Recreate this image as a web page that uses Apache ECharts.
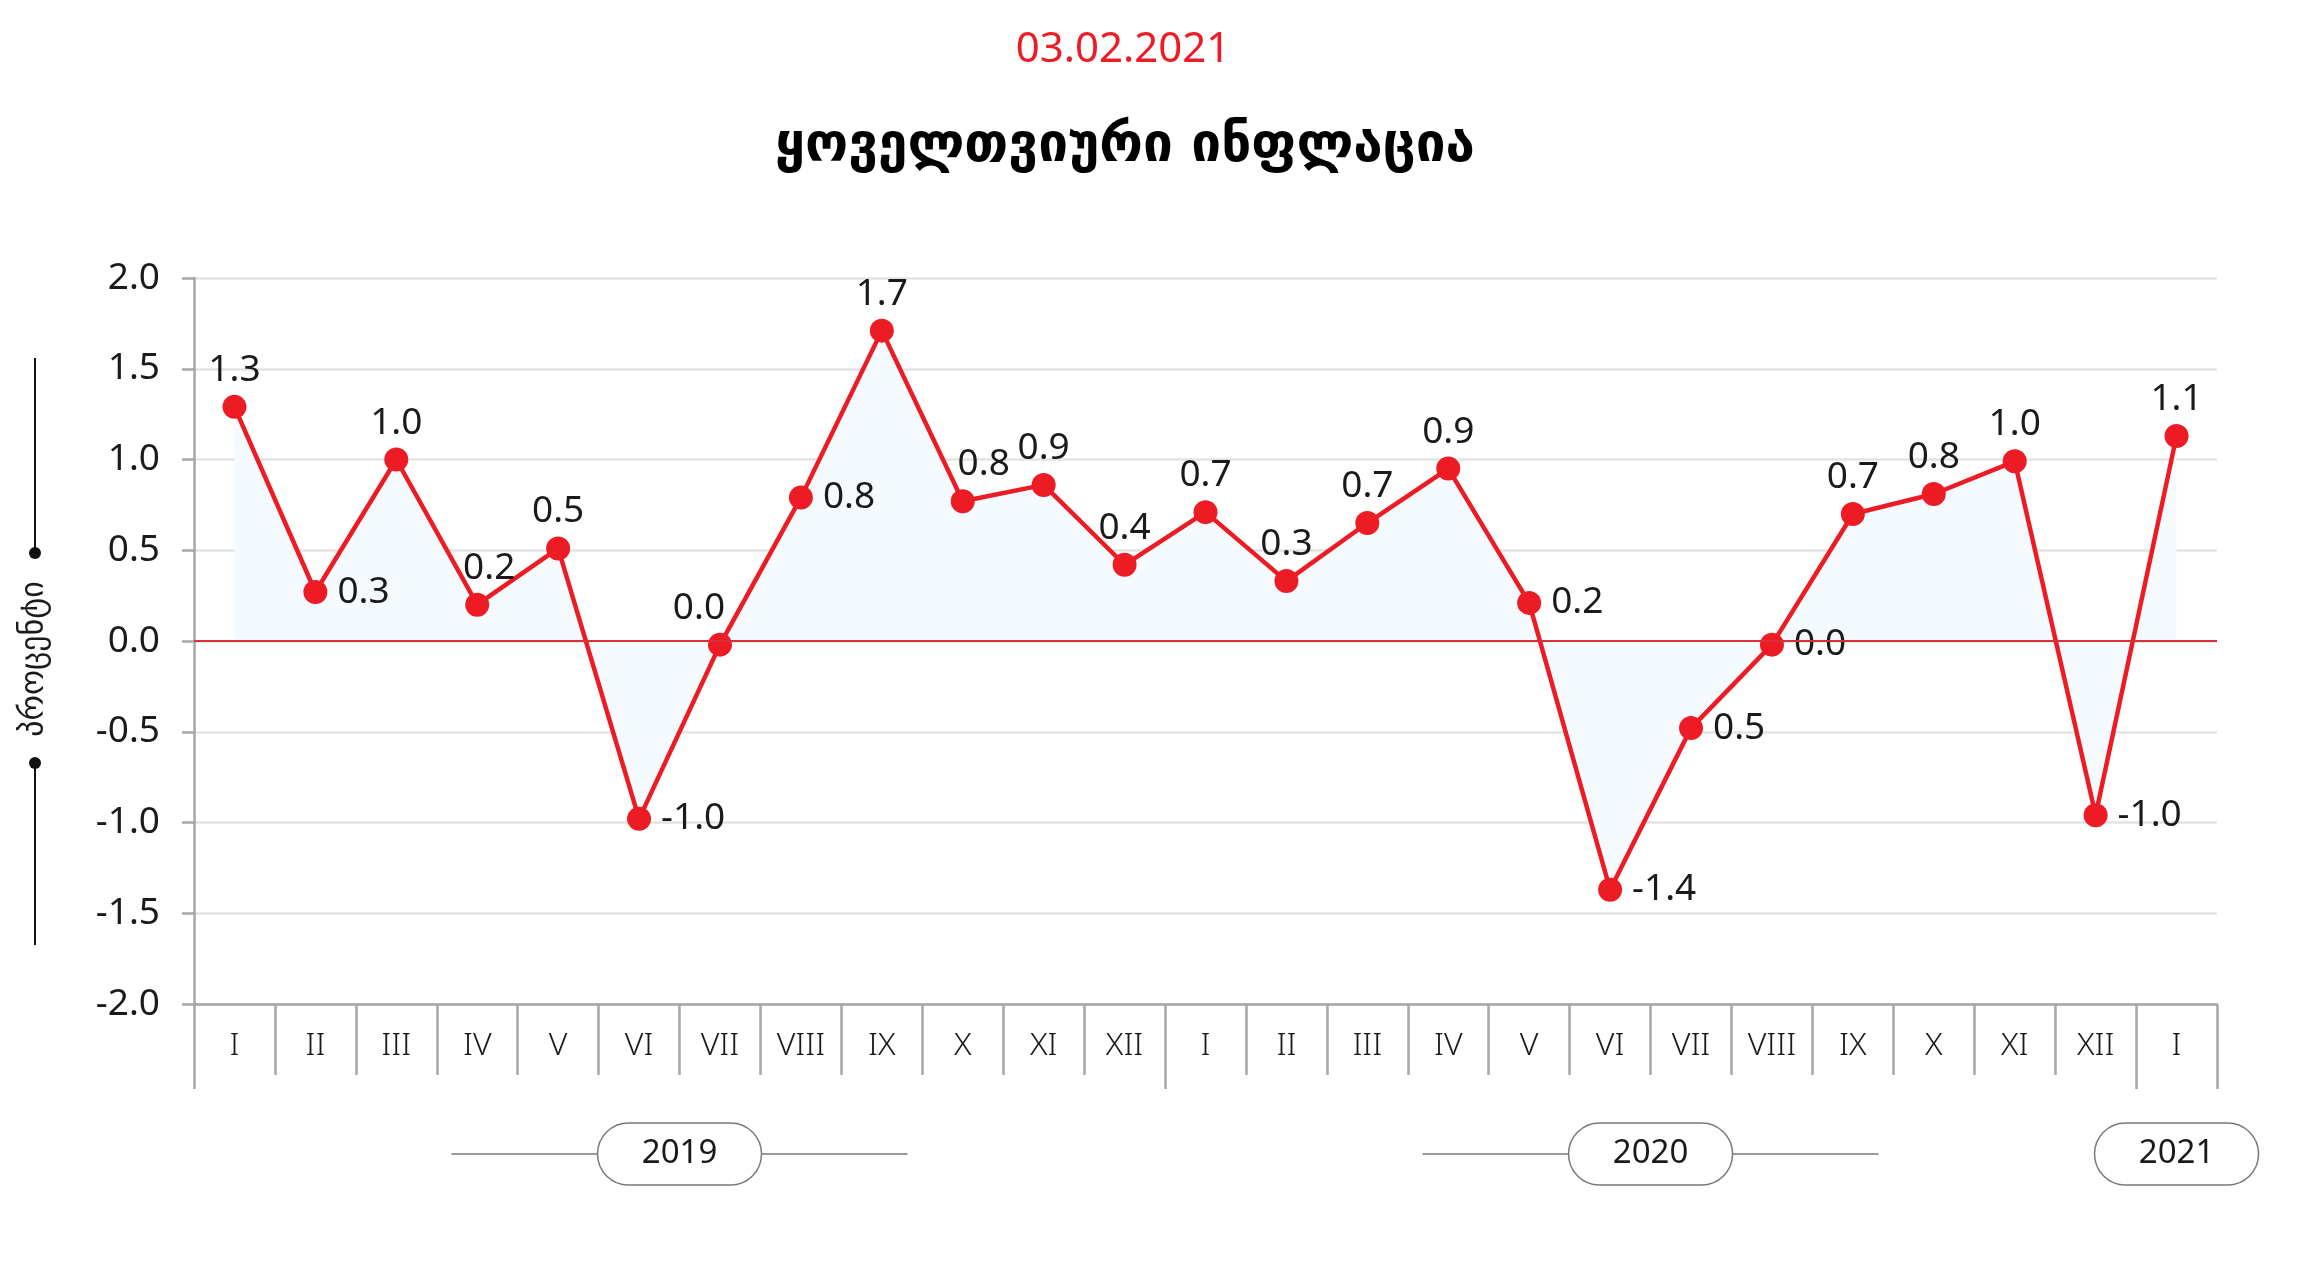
<!DOCTYPE html>
<html>
<head>
<meta charset="utf-8">
<script src="https://cdn.jsdelivr.net/npm/echarts@6/dist/echarts.min.js"></script>
<style>
html, body { margin: 0; padding: 0; background: #fff; }
#main { width: 2315px; height: 1265px; }
</style>
</head>
<body>
<div id="main"></div>
<script>
var months = ['I','II','III','IV','V','VI','VII','VIII','IX','X','XI','XII',
              'I','II','III','IV','V','VI','VII','VIII','IX','X','XI','XII','I'];
var inflation = [1.29, 0.27, 1.0, 0.2, 0.51, -0.98, -0.02, 0.79, 1.71, 0.77, 0.86, 0.42,
                 0.71, 0.33, 0.65, 0.95, 0.21, -1.37, -0.48, -0.02, 0.70, 0.81, 0.99, -0.96, 1.13];
var pointLabels = ['1.3','0.3','1.0','0.2','0.5','-1.0','0.0','0.8','1.7','0.8','0.9','0.4',
                   '0.7','0.3','0.7','0.9','0.2','-1.4','0.5','0.0','0.7','0.8','1.0','-1.0','1.1'];
var years = [
  {name: '2019', first: 0, last: 11},
  {name: '2020', first: 12, last: 23},
  {name: '2021', first: 24, last: 24}
];
var yTicks = [-2, 2, 0.5];

// label placement tweaks (style only)
var rightLabels = [1, 5, 7, 16, 17, 18, 19, 23];
var labelNudge = {3: [12, 0], 6: [-21, 0], 9: [21, 0]};

var RED = '#ED1C24', GREY = '#a6a6a8', INK = '#1a1a1a';
var chart = echarts.init(document.getElementById('main'));

var seriesData = inflation.map(function (v, i) {
  var right = rightLabels.indexOf(i) >= 0;
  return {
    value: v,
    label: {position: right ? 'right' : 'top', distance: right ? 10 : 6,
            offset: labelNudge[i] || [0, 0]}
  };
});

var option = {
  animation: false,
  backgroundColor: '#fff',
  title: [
    {text: '03.02.2021', left: 1118, textAlign: 'center', top: 24,
     textStyle: {color: RED, fontSize: 42, fontWeight: 'normal', fontFamily: 'Noto Sans'}},
    {text: 'ყოველთვიური ინფლაცია', left: 1120, textAlign: 'center', top: 116,
     textStyle: {color: '#000', fontSize: 53, fontWeight: 'bold', fontFamily: 'DejaVu Sans'}}
  ],
  grid: {left: 194, right: 98, top: 278, bottom: 261},
  xAxis: [{
    type: 'category', data: months, boundaryGap: true, position: 'bottom',
    axisLine: {onZero: false, lineStyle: {color: GREY, width: 2.5}},
    axisTick: {show: true, length: 71, interval: 0, lineStyle: {color: GREY, width: 2.5}},
    axisLabel: {interval: 0, margin: 26, fontSize: 32, color: INK, fontFamily: 'Noto Sans', fontWeight: 300},
    splitLine: {show: false}
  }, {
    type: 'category', data: months, boundaryGap: true, position: 'bottom',
    axisLine: {show: false, onZero: false},
    axisTick: {show: true, length: 85, interval: function (i) { return i % 12 === 0; },
               lineStyle: {color: GREY, width: 2.5}},
    axisLabel: {show: false},
    splitLine: {show: false}
  }],
  yAxis: {
    type: 'value', min: yTicks[0], max: yTicks[1], interval: yTicks[2],
    axisLine: {show: true, lineStyle: {color: GREY, width: 2.5}},
    axisTick: {show: true, length: 12, lineStyle: {color: GREY, width: 2.5}},
    axisLabel: {margin: 34, fontSize: 37, color: INK, fontFamily: 'Noto Sans',
                formatter: function (v) { return v.toFixed(1); }},
    splitLine: {lineStyle: {color: '#e3e3e3', width: 2.5}}
  },
  series: [{
    type: 'line',
    data: seriesData,
    symbol: 'circle',
    symbolSize: 24,
    itemStyle: {color: RED},
    lineStyle: {color: RED, width: 4.5},
    areaStyle: {color: '#F5FAFE', opacity: 1},
    label: {show: true, fontSize: 37, color: INK, fontFamily: 'Noto Sans',
            formatter: function (p) { return pointLabels[p.dataIndex]; }},
    markLine: {
      silent: true, symbol: 'none',
      label: {show: false},
      lineStyle: {color: '#D9303A', width: 2, type: 'solid'},
      data: [{yAxis: 0}]
    }
  }]
};
chart.setOption(option);

// decorations: year pills under the axis and the side unit label
var graphics = [];
var axisBottom = chart.convertToPixel({yAxisIndex: 0}, yTicks[0]);
var pillY = axisBottom + 150;
years.forEach(function (y) {
  var x0 = chart.convertToPixel({xAxisIndex: 0}, y.first);
  var x1 = chart.convertToPixel({xAxisIndex: 0}, y.last);
  var cx = (x0 + x1) / 2;
  if (y.last > y.first) {
    graphics.push({type: 'line', z: 1,
      shape: {x1: cx - 228, y1: pillY, x2: cx + 228, y2: pillY},
      style: {stroke: '#9a9a9a', lineWidth: 2}});
  }
  graphics.push({type: 'rect', z: 2,
    shape: {x: cx - 82, y: pillY - 31, width: 164, height: 62, r: 31},
    style: {fill: '#fff', stroke: '#7a7a7a', lineWidth: 1.5}});
  graphics.push({type: 'text', z: 3, x: cx, y: pillY,
    style: {text: y.name, fill: INK, font: '33px "Noto Sans"', align: 'center', verticalAlign: 'middle'}});
});

var nameY = 659, nameX = 35;
graphics.push({type: 'text', x: nameX, y: nameY, rotation: Math.PI / 2,
  style: {text: 'პროცენტი', fill: INK, font: '32px "DejaVu Sans"', align: 'center', verticalAlign: 'middle'}});
graphics.push({type: 'line', shape: {x1: nameX, y1: 358, x2: nameX, y2: 553}, style: {stroke: '#111', lineWidth: 2}});
graphics.push({type: 'circle', shape: {cx: nameX, cy: 553, r: 6}, style: {fill: '#111'}});
graphics.push({type: 'circle', shape: {cx: nameX, cy: 763, r: 6}, style: {fill: '#111'}});
graphics.push({type: 'line', shape: {x1: nameX, y1: 763, x2: nameX, y2: 945}, style: {stroke: '#111', lineWidth: 2}});

chart.setOption({graphic: graphics});
</script>
</body>
</html>
